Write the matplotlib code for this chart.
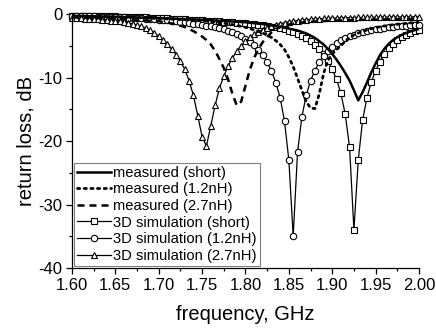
import numpy as np
import matplotlib
matplotlib.use("Agg")
import matplotlib.pyplot as plt
from matplotlib.ticker import MultipleLocator, FormatStrFormatter

plt.rcParams['font.family'] = ['Liberation Sans', 'DejaVu Sans']
plt.rcParams['axes.unicode_minus'] = False

# simulation frequency grid (GHz)
f_sim = np.round(np.arange(1.600, 2.0001, 0.005), 3)

sim_short = [-0.25, -0.26, -0.27, -0.28, -0.29, -0.30, -0.31, -0.33, -0.34, -0.36,
             -0.38, -0.40, -0.42, -0.44, -0.46, -0.48, -0.50, -0.53, -0.56, -0.59,
             -0.62, -0.65, -0.68, -0.72, -0.76, -0.80, -0.84, -0.88, -0.92, -0.96,
             -1.00, -1.04, -1.08, -1.12, -1.16, -1.20, -1.25, -1.30, -1.35, -1.41,
             -1.47, -1.54, -1.61, -1.69, -1.78, -1.88, -1.99, -2.12, -2.27, -2.44,
             -2.64, -2.87, -3.14, -3.45, -3.82, -4.27, -4.82, -5.5, -6.35, -7.4,
             -8.7, -10.3, -12.5, -15.8, -21.0, -34.0, -23.0, -16.7, -13.2, -10.7,
             -8.9, -7.5, -6.3, -5.4, -4.7, -4.1, -3.7, -3.3, -3.0, -2.7, -2.45]

sim_12nH = [-0.32, -0.33, -0.34, -0.35, -0.37, -0.38, -0.40, -0.42, -0.44, -0.46,
            -0.48, -0.51, -0.54, -0.57, -0.60, -0.64, -0.68, -0.72, -0.77, -0.82,
            -0.88, -0.94, -1.01, -1.08, -1.16, -1.24, -1.32, -1.41, -1.50, -1.60,
            -1.70, -1.82, -1.95, -2.10, -2.25, -2.42, -2.60, -2.85, -3.15, -3.50,
            -3.90, -4.35, -4.90, -5.60, -6.50, -7.60, -9.00, -10.8, -13.2, -16.9,
            -23.0, -35.0, -21.8, -16.2, -12.8, -10.5, -8.9, -7.6, -6.6, -5.8,
            -5.15, -4.6, -4.15, -3.8, -3.5, -3.25, -3.05, -2.85, -2.7, -2.55,
            -2.42, -2.3, -2.2, -2.1, -2.02, -1.95, -1.88, -1.82, -1.76, -1.71, -1.66]

sim_27nH = [-0.62, -0.65, -0.68, -0.72, -0.76, -0.80, -0.85, -0.90, -0.96, -1.03,
            -1.10, -1.18, -1.28, -1.40, -1.55, -1.73, -1.95, -2.22, -2.55, -3.0,
            -3.5, -4.1, -4.8, -5.55, -6.4, -7.45, -8.7, -10.5, -12.8, -16.0,
            -19.3, -20.8, -17.6, -14.4, -11.7, -9.8, -8.2, -6.9, -5.9, -5.0,
            -4.3, -3.7, -3.2, -2.8, -2.45, -2.15, -1.9, -1.7, -1.52, -1.37,
            -1.24, -1.13, -1.04, -0.96, -0.90, -0.84, -0.79, -0.75, -0.71, -0.68,
            -0.65, -0.63, -0.61, -0.59, -0.57, -0.56, -0.55, -0.54, -0.53, -0.52,
            -0.51, -0.50, -0.49, -0.48, -0.47, -0.47, -0.46, -0.46, -0.45, -0.45, -0.45]

# measured curves
f_meas_short = [1.60, 1.65, 1.70, 1.75, 1.80, 1.82, 1.84, 1.85, 1.86, 1.87, 1.88, 1.89,
                1.895, 1.90, 1.905, 1.91, 1.915, 1.92, 1.925, 1.93, 1.935, 1.94, 1.945,
                1.95, 1.955, 1.96, 1.965, 1.97, 1.975, 1.98, 1.985, 1.99, 1.995, 2.00]
meas_short = [-0.3, -0.45, -0.65, -0.9, -1.3, -1.6, -2.0, -2.3, -2.6, -3.05, -3.75, -4.8,
              -5.5, -6.3, -7.2, -8.2, -9.3, -10.5, -12.0, -13.6, -12.3, -10.8, -9.2,
              -7.8, -6.5, -5.5, -4.7, -4.1, -3.65, -3.3, -3.0, -2.75, -2.55, -2.35]

f_meas_12nH = [1.60, 1.65, 1.70, 1.75, 1.77, 1.78, 1.79, 1.80, 1.81, 1.82, 1.83, 1.835,
               1.84, 1.845, 1.85, 1.855, 1.86, 1.865, 1.87, 1.875, 1.88, 1.885, 1.89,
               1.895, 1.90, 1.905, 1.91, 1.915, 1.92, 1.925, 1.93, 1.935, 1.94, 1.95,
               1.96, 1.97, 1.98, 1.99, 2.00]
meas_12nH = [-0.3, -0.45, -0.7, -1.05, -1.35, -1.55, -1.8, -2.1, -2.5, -3.0, -3.7, -4.2,
             -4.8, -5.6, -6.8, -8.3, -10.1, -12.0, -13.8, -14.8, -14.9, -12.6, -9.4,
             -7.3, -6.3, -5.6, -5.0, -4.3, -3.7, -3.3, -3.0, -2.75, -2.5, -2.15,
             -1.9, -1.7, -1.55, -1.42, -1.3]

f_meas_27nH = [1.60, 1.65, 1.70, 1.71, 1.72, 1.73, 1.74, 1.745, 1.75, 1.755, 1.76, 1.765,
               1.77, 1.775, 1.78, 1.785, 1.79, 1.795, 1.80, 1.805, 1.81, 1.815, 1.82,
               1.825, 1.83, 1.835, 1.84, 1.85, 1.86, 1.87, 1.88, 1.90, 1.92, 1.94,
               1.96, 1.98, 2.00]
meas_27nH = [-0.5, -0.75, -1.15, -1.35, -1.65, -2.05, -2.7, -3.1, -3.55, -4.1, -4.8, -5.8,
             -7.1, -8.5, -10.3, -12.6, -14.4, -13.8, -11.3, -8.8, -6.9, -5.5, -4.4,
             -3.6, -2.9, -2.4, -2.05, -1.65, -1.42, -1.28, -1.18, -1.05, -0.97, -0.9,
             -0.85, -0.8, -0.77]

labels = ["measured (short)", "measured (1.2nH)", "measured (2.7nH)",
          "3D simulation (short)", "3D simulation (1.2nH)", "3D simulation (2.7nH)"]
xticks = [1.60, 1.65, 1.70, 1.75, 1.80, 1.85, 1.90, 1.95, 2.00]
yticks = [0, -10, -20, -30, -40]

fig = plt.figure(figsize=(4.36, 3.33), dpi=100)
ax = fig.add_axes([0.165, 0.195, 0.796, 0.763])

ax.plot(f_meas_short, meas_short, color='black', lw=1.8, label=labels[0], zorder=3)
ax.plot(f_meas_12nH, meas_12nH, color='black', lw=2.0, ls=(0, (0.8, 1.6)),
        dash_capstyle='round', label=labels[1], zorder=3)
ax.plot(f_meas_27nH, meas_27nH, color='black', lw=1.8, ls=(0, (2.8, 2.0)),
        label=labels[2], zorder=3)

mk = dict(color='black', lw=0.9, mfc='white', mec='black', ms=4.6, mew=0.8, clip_on=False)
ax.plot(f_sim, sim_short, marker='s', label=labels[3], **mk)
ax.plot(f_sim, sim_12nH, marker='o', label=labels[4], **mk)
ax.plot(f_sim, sim_27nH, marker='^', label=labels[5], **mk)

ax.set_xlim(1.60, 2.00)
ax.set_ylim(-40, 0)
ax.set_xticks(xticks)
ax.set_yticks(yticks)
ax.xaxis.set_major_formatter(FormatStrFormatter('%.2f'))
ax.xaxis.set_minor_locator(MultipleLocator(0.025))
ax.yaxis.set_minor_locator(MultipleLocator(5))
ax.tick_params(which='major', direction='out', length=4, width=0.9, labelsize=12, pad=3)
ax.tick_params(which='minor', direction='out', length=2.5, width=0.9)
for s in ['top', 'right']:
    ax.spines[s].set_visible(False)
for s in ['left', 'bottom']:
    ax.spines[s].set_linewidth(0.9)

ax.set_xlabel('frequency, GHz', fontsize=14.5, labelpad=9)
ax.set_ylabel('return loss, dB', fontsize=14.5, labelpad=2)

leg = ax.legend(loc='lower left', bbox_to_anchor=(0.0, 0.0), fontsize=10.6,
                frameon=True, fancybox=False, edgecolor='#808080', framealpha=1,
                borderpad=0.2, labelspacing=0.18, handlelength=2.3,
                handletextpad=0.15, borderaxespad=0.15, numpoints=1)
leg.get_frame().set_linewidth(0.8)

fig.savefig('out.png', dpi=100)
